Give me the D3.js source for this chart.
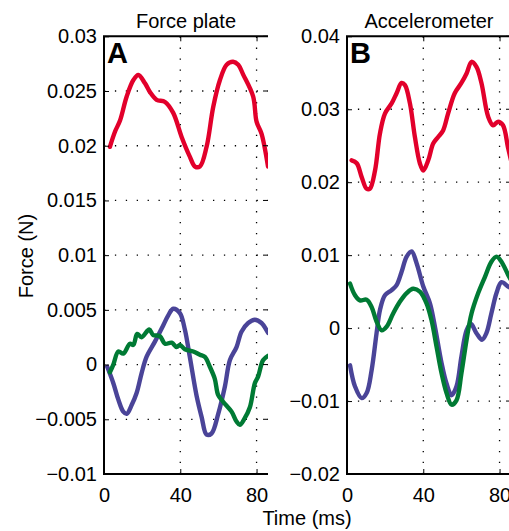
<!DOCTYPE html>
<html>
<head>
<meta charset="utf-8">
<script src="https://cdn.jsdelivr.net/npm/d3@7"></script>
<style>
  html, body { margin: 0; padding: 0; background: #fff; overflow: hidden; }
  svg { display: block; }
  text { font-family: "Liberation Sans", Arial, Helvetica, sans-serif; fill: #000; }
</style>
</head>
<body>
<svg id="chart" width="509" height="531"></svg>
<script>
// Time axis (ms)
const xTicks = [0, 40, 80];
const xTickLabels = ["0", "40", "80"];

// Panel A: force plate
const forceTicks = [-0.01, -0.005, 0, 0.005, 0.01, 0.015, 0.02, 0.025, 0.03];
const forceTickLabels = ["\u22120.01", "\u22120.005", "0", "0.005", "0.01", "0.015", "0.02", "0.025", "0.03"];

const forceRed = [
  [3.1, 0.0199], [5.8, 0.0213], [8.4, 0.0223], [11.9, 0.0245], [15.4, 0.0260], [18.0, 0.02646],
  [21.5, 0.0257], [24.1, 0.0249], [27.6, 0.0242], [32.0, 0.0240], [36.3, 0.0230], [40.7, 0.0208],
  [45.0, 0.0190], [47.7, 0.0181], [50.3, 0.0181], [53.8, 0.0199], [57.3, 0.02356], [60.8, 0.0260],
  [64.3, 0.0274], [67.7, 0.02768], [70.4, 0.0274], [73.0, 0.0265], [78.2, 0.0245], [80.0, 0.0222],
  [82.6, 0.0211], [86.0, 0.0181]
];
const forceBlue = [
  [1.7, -0.0002], [4.9, -0.0017], [7.5, -0.0032], [10.1, -0.0043], [11.9, -0.0045], [14.5, -0.0037],
  [17.1, -0.0026], [19.7, -0.0008], [22.3, 0.0007], [26.7, 0.0021], [31.1, 0.0036], [33.7, 0.0045],
  [36.3, 0.0051], [39.8, 0.0047], [42.4, 0.0032], [45.0, 0.0007], [48.6, -0.0029], [51.2, -0.0048],
  [53.8, -0.0064], [56.4, -0.0063], [59.9, -0.0045], [63.4, -0.0020], [66.0, 0.0004], [69.5, 0.0016],
  [72.1, 0.0030], [75.6, 0.0038], [79.1, 0.0041], [82.6, 0.0038], [86.0, 0.0029]
];
const forceGreen = [
  [3.1, -0.0007], [4.9, 0.0000], [7.5, 0.0012], [10.1, 0.0010], [13.6, 0.0019], [15.4, 0.0018],
  [17.4, 0.0028], [19.7, 0.0025], [23.7, 0.0032], [25.8, 0.0027], [29.3, 0.0026], [32.0, 0.0019],
  [35.5, 0.0020], [38.1, 0.0016], [39.8, 0.0018], [42.4, 0.0014], [46.8, 0.0012], [50.3, 0.0009],
  [52.9, 0.0007], [55.5, -0.0002], [58.1, -0.0013], [59.9, -0.0028], [62.5, -0.0034], [66.9, -0.0043],
  [69.5, -0.0052], [71.2, -0.0055], [73.8, -0.0049], [76.5, -0.0039], [79.1, -0.0017], [80.8, -0.0011],
  [83.4, 0.0004], [86.0, 0.0008]
];

// Panel B: accelerometer
const accelTicks = [-0.02, -0.01, 0, 0.01, 0.02, 0.03, 0.04];
const accelTickLabels = ["\u22120.02", "\u22120.01", "0", "0.01", "0.02", "0.03", "0.04"];

const accelRed = [
  [2.4, 0.0230], [5.1, 0.0226], [7.7, 0.0207], [10.3, 0.0191], [12.0, 0.0191], [14.7, 0.0216],
  [17.3, 0.0267], [19.9, 0.0294], [23.4, 0.0308], [26.0, 0.0322], [28.6, 0.0336], [30.4, 0.0333],
  [33.0, 0.0308], [35.6, 0.0262], [38.2, 0.0226], [40.0, 0.0216], [42.6, 0.0230], [45.2, 0.0253],
  [47.8, 0.0262], [50.4, 0.0271], [53.0, 0.0294], [56.5, 0.0322], [60.0, 0.0336], [62.7, 0.0349],
  [65.3, 0.0365], [67.9, 0.0358], [70.5, 0.0336], [74.0, 0.0290], [76.6, 0.0278], [79.2, 0.0283],
  [81.8, 0.0278], [84.4, 0.0248], [86.0, 0.0230]
];
const accelBlue = [
  [1.6, -0.0051], [4.2, -0.0080], [7.7, -0.0096], [10.3, -0.0089], [12.9, -0.0058], [15.5, -0.0007],
  [17.3, 0.0025], [19.9, 0.0045], [23.4, 0.0052], [26.0, 0.0059], [28.6, 0.0077], [31.3, 0.0098],
  [33.9, 0.0105], [36.5, 0.0089], [40.0, 0.0057], [43.5, 0.0034], [46.1, 0.0002], [49.6, -0.0048],
  [52.2, -0.0076], [54.8, -0.0092], [57.4, -0.0080], [60.0, -0.0039], [62.7, -0.0003], [64.9, 0.0006],
  [67.9, -0.0007], [70.8, -0.0016], [73.1, -0.0007], [75.7, 0.0020], [78.4, 0.0048], [81.0, 0.0063],
  [84.5, 0.0057], [86.0, 0.0055]
];
const accelGreen = [
  [1.6, 0.0061], [4.2, 0.0045], [6.8, 0.0038], [10.3, 0.0039], [12.9, 0.0029], [15.5, 0.0009],
  [18.2, -0.0003], [20.8, 0.0002], [24.2, 0.0020], [27.7, 0.0036], [31.3, 0.0048], [34.7, 0.0054],
  [38.2, 0.0050], [41.7, 0.0034], [44.3, 0.0011], [47.0, -0.0026], [49.6, -0.0062], [52.2, -0.0089],
  [54.8, -0.0105], [57.4, -0.0099], [60.0, -0.0062], [62.7, -0.0016], [65.3, 0.0020], [68.8, 0.0048],
  [72.3, 0.0070], [75.7, 0.0091], [78.4, 0.0098], [81.0, 0.0091], [84.5, 0.0073], [86.0, 0.0066]
];

const colors = { red: "#e2002b", blue: "#4a4498", green: "#007a34" };

const svg = d3.select("#chart");

function drawPanel(opt) {
  const x = d3.scaleLinear().domain([0, 86]).range([opt.left, opt.left + 164]);
  const y = d3.scaleLinear().domain(opt.yDomain).range([474, 36.3]);
  const g = svg.append("g");
  const [x0, x1] = x.range();
  const [y0, y1] = y.range();

  const clipId = "clip-" + opt.letter;
  svg.append("clipPath").attr("id", clipId)
    .append("rect").attr("x", x0).attr("y", y1).attr("width", x1 - x0).attr("height", y0 - y1);

  // dotted grid
  const grid = g.append("g").attr("stroke", "#000").attr("stroke-width", 1.3)
    .attr("stroke-dasharray", "1.3 9.6").attr("fill", "none");
  grid.selectAll("line.gy").data(opt.yTicks.filter((d, i) => i > 0 && i < opt.yTicks.length - 1))
    .join("line").attr("class", "gy")
    .attr("x1", x0).attr("x2", x1).attr("y1", d => y(d)).attr("y2", d => y(d));
  grid.selectAll("line.gx").data(xTicks.filter(d => d > 0))
    .join("line").attr("class", "gx")
    .attr("x1", d => x(d)).attr("x2", d => x(d)).attr("y1", y0).attr("y2", y1);

  // series
  const line = d3.line().x(d => x(d[0])).y(d => y(d[1])).curve(d3.curveCatmullRom.alpha(0.5));
  const lines = g.append("g").attr("clip-path", `url(#${clipId})`);
  opt.series.forEach(s => {
    lines.append("path").datum(s.data)
      .attr("d", line).attr("fill", "none")
      .attr("stroke", s.color).attr("stroke-width", 4.4)
      .attr("stroke-linejoin", "round").attr("stroke-linecap", "round");
  });

  // axes: left, bottom, top
  const leftAxis = d3.axisLeft(y).tickValues(opt.yTicks).tickSize(-5).tickPadding(7)
    .tickFormat((d, i) => opt.yLabels[i]);
  const la = g.append("g").attr("transform", `translate(${x0},0)`).call(leftAxis);
  const bottomAxis = d3.axisBottom(x).tickValues(xTicks).tickSize(-5).tickPadding(14)
    .tickFormat((d, i) => xTickLabels[i]);
  const ba = g.append("g").attr("transform", `translate(0,${y0})`).call(bottomAxis);
  const topAxis = d3.axisTop(x).tickValues(xTicks).tickSize(-5).tickFormat("");
  const ta = g.append("g").attr("transform", `translate(0,${y1})`).call(topAxis);
  // right-side inward ticks
  g.append("g").selectAll("line").data(opt.yTicks).join("line")
    .attr("x1", x1 - 5).attr("x2", x1).attr("y1", d => y(d)).attr("y2", d => y(d))
    .attr("stroke", "#000").attr("stroke-width", 1);

  [la, ba, ta].forEach(a => {
    a.select(".domain").remove();
    a.selectAll(".tick line").attr("stroke", "#000").attr("stroke-width", 1);
    a.selectAll(".tick text").attr("font-size", 20)
      .attr("font-family", '"Liberation Sans", Arial, Helvetica, sans-serif').attr("fill", "#000");
  });
  g.append("path")
    .attr("d", `M${x1},${y1}H${x0}V${y0}H${x1}`)
    .attr("fill", "none").attr("stroke", "#000").attr("stroke-width", 2);

  // title and panel letter
  g.append("text").attr("x", (x0 + x1) / 2).attr("y", 28).attr("text-anchor", "middle")
    .attr("font-size", 20).text(opt.title);
  g.append("text").attr("x", x0 + 3).attr("y", 63).attr("font-size", 29)
    .attr("font-weight", "bold").text(opt.letter);
}

drawPanel({
  left: 104, yDomain: [-0.01, 0.03], yTicks: forceTicks, yLabels: forceTickLabels,
  title: "Force plate", letter: "A",
  series: [
    { data: forceRed, color: colors.red },
    { data: forceBlue, color: colors.blue },
    { data: forceGreen, color: colors.green }
  ]
});

drawPanel({
  left: 347, yDomain: [-0.02, 0.04], yTicks: accelTicks, yLabels: accelTickLabels,
  title: "Accelerometer", letter: "B",
  series: [
    { data: accelRed, color: colors.red },
    { data: accelBlue, color: colors.blue },
    { data: accelGreen, color: colors.green }
  ]
});

// shared axis titles
svg.append("text").attr("x", 307).attr("y", 525).attr("text-anchor", "middle")
  .attr("font-size", 20).text("Time (ms)");
svg.append("text").attr("transform", "translate(33,256) rotate(-90)")
  .attr("text-anchor", "middle").attr("font-size", 20).text("Force (N)");
</script>
</body>
</html>
